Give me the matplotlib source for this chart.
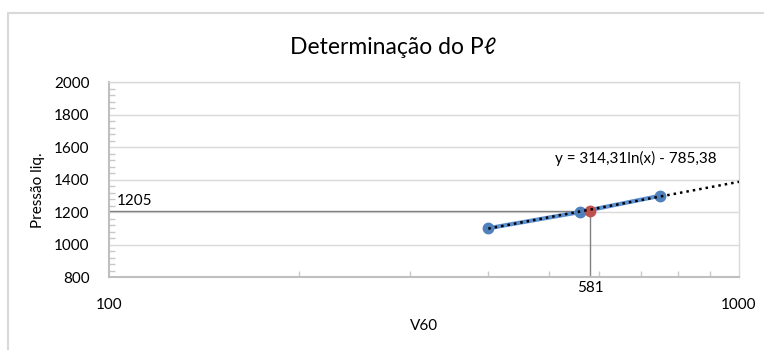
import numpy as np
import matplotlib
matplotlib.use("Agg")
import matplotlib.pyplot as plt
from matplotlib.patches import Rectangle
from matplotlib.ticker import FixedLocator, NullFormatter

plt.rcParams["font.family"] = ["Lato", "DejaVu Sans"]

# measured points
v60 = [400, 560, 750]
pressao = [1100, 1200, 1300]

# interpolated point (Pl)
v_pl = 581
p_pl = 1205

# log trendline coefficients
coef_a = 314.31
coef_b = -785.38
trend_x = [400, 1000]
eq_label = "y = 314,31ln(x) - 785,38"

y_ticks = [800, 1000, 1200, 1400, 1600, 1800, 2000]

fig = plt.figure(figsize=(7.64, 3.5), dpi=100)
fig.patches.append(Rectangle((8 / 764, -0.1), 1.2, 1 - 13 / 350 + 0.1,
                             transform=fig.transFigure, fill=False,
                             edgecolor="#D9D9D9", lw=1.5))

ax = fig.add_axes([109 / 764, 1 - 277 / 350, 630 / 764, 195 / 350])
ax.set_xscale("log")
ax.set_xlim(100, 1000)
ax.set_ylim(800, 2000)

# guide lines for Pl
ax.plot([100, v_pl], [p_pl, p_pl], color="#808080", lw=1, zorder=2)
ax.plot([v_pl, v_pl], [800, p_pl], color="#808080", lw=1, zorder=2)

ax.plot(v60, pressao, color="#5B8FCF", lw=3, marker="o", ms=7.5,
        mfc="#4F81BD", mec="#4F81BD", zorder=3)
ax.plot([v_pl], [p_pl], "o", color="#C0504D", ms=7.5, zorder=4)

tx = np.geomspace(trend_x[0], trend_x[1], 200)
ax.plot(tx, coef_a * np.log(tx) + coef_b, color="black", lw=1.8,
        linestyle=(0, (1, 1.6)), zorder=5)

ax.text(685, 1532, eq_label, ha="center", va="center", fontsize=11)
ax.text(103, 1268, str(p_pl), ha="left", va="center", fontsize=11)
ax.text(v_pl, 734, str(v_pl), ha="center", va="center", fontsize=11)

ax.set_yticks(y_ticks)
ax.yaxis.set_minor_locator(FixedLocator(np.arange(800, 2001, 40)))
ax.xaxis.set_major_locator(FixedLocator([100, 1000]))
ax.xaxis.set_minor_locator(FixedLocator([200, 300, 400, 500, 600, 700, 800, 900]))
ax.xaxis.set_minor_formatter(NullFormatter())
ax.set_xticklabels(["100", "1000"])
ax.tick_params(axis="both", which="major", length=0, labelsize=11)
ax.tick_params(axis="y", which="major", pad=14)
ax.tick_params(axis="x", which="major", pad=15)
ax.tick_params(axis="both", which="minor", direction="in", length=4,
               color="#C8C8C8", width=1)

ax.grid(axis="y", which="major", color="#D9D9D9", lw=1)
ax.set_axisbelow(True)
for side in ["left", "bottom"]:
    ax.spines[side].set_color("#BFBFBF")
    ax.spines[side].set_linewidth(1.5)
for side in ["right", "top"]:
    ax.spines[side].set_color("#D9D9D9")
    ax.spines[side].set_linewidth(1)

fig.text(393 / 764, 1 - 47 / 350, "Determinação do Pℓ", ha="center",
         va="center", fontsize=16.5)
fig.text(424 / 764, 1 - 326 / 350, "V60", ha="center", va="center", fontsize=11)
fig.text(38 / 764, 1 - 190 / 350, "Pressão liq.", ha="center", va="center",
         rotation=90, fontsize=11)

fig.savefig("out.png", dpi=100)
